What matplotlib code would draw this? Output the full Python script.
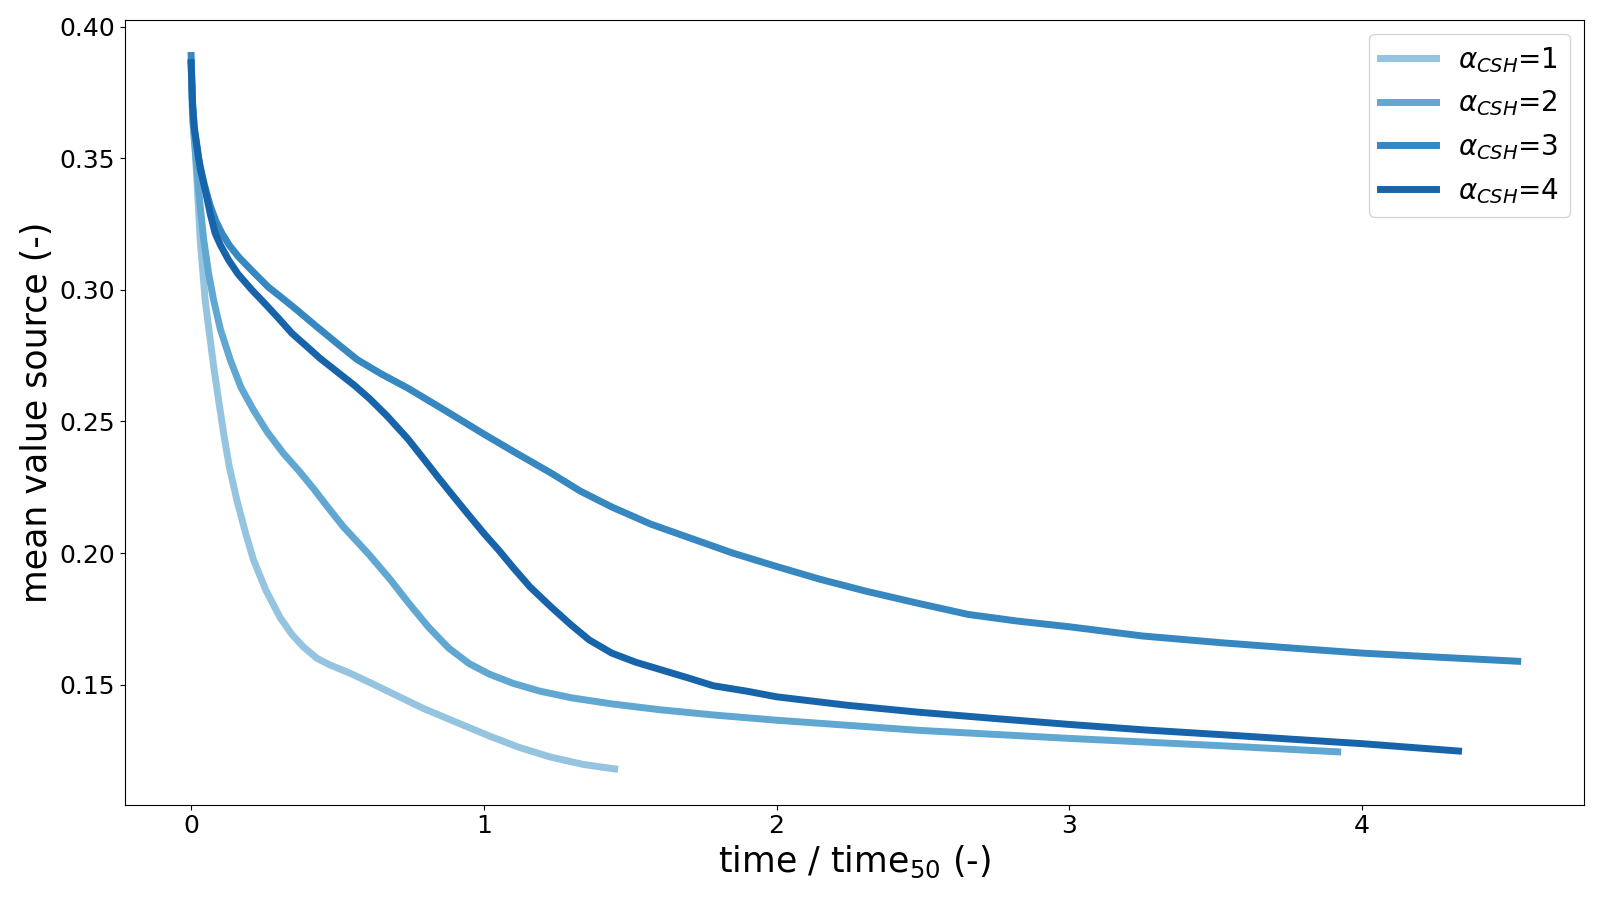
import matplotlib
matplotlib.use("Agg")
import matplotlib.pyplot as plt
import numpy as np

# values (time / time50, mean value source)
t1 = [0.0, 0.005, 0.014, 0.031, 0.048, 0.063, 0.077, 0.094, 0.111, 0.130, 0.156,
      0.185, 0.213, 0.255, 0.304, 0.345, 0.383, 0.430, 0.474, 0.540, 0.611, 0.700,
      0.793, 0.900, 1.019, 1.120, 1.228, 1.340, 1.447]
s1 = [0.386, 0.365, 0.353, 0.319, 0.296, 0.283, 0.2708, 0.258, 0.2455, 0.233, 0.2202,
      0.208, 0.1974, 0.186, 0.1755, 0.169, 0.1644, 0.160, 0.1575, 0.1545, 0.1508, 0.1460,
      0.1410, 0.1360, 0.1305, 0.1262, 0.1225, 0.1197, 0.1180]

t2 = [0.0, 0.005, 0.014, 0.030, 0.043, 0.060, 0.077, 0.100, 0.134, 0.170, 0.213,
      0.260, 0.315, 0.370, 0.418, 0.470, 0.520, 0.570, 0.611, 0.680, 0.741, 0.810,
      0.880, 0.950, 1.019, 1.100, 1.193, 1.300, 1.437, 1.600, 1.784, 2.0, 2.48, 3.0,
      3.52, 3.917]
s2 = [0.386, 0.366, 0.353, 0.333, 0.319, 0.306, 0.296, 0.285, 0.2733, 0.263, 0.2543,
      0.246, 0.2379, 0.231, 0.2245, 0.217, 0.2100, 0.204, 0.1990, 0.190, 0.1813, 0.172,
      0.1639, 0.1580, 0.1540, 0.1505, 0.1475, 0.1450, 0.1427, 0.1405, 0.1385, 0.1365,
      0.1327, 0.1296, 0.1268, 0.1245]

t3 = [0.0, 0.005, 0.012, 0.025, 0.045, 0.065, 0.085, 0.105, 0.130, 0.162, 0.210,
      0.264, 0.304, 0.365, 0.429, 0.50, 0.567, 0.650, 0.741, 0.870, 1.0, 1.110, 1.228,
      1.330, 1.437, 1.570, 1.715, 1.850, 2.0, 2.150, 2.306, 2.480, 2.654, 2.820, 3.0,
      3.250, 3.523, 3.750, 4.0, 4.250, 4.532]
s3 = [0.389, 0.371, 0.360, 0.350, 0.340, 0.332, 0.326, 0.3215, 0.317, 0.3125, 0.3070,
      0.3010, 0.2975, 0.292, 0.286, 0.2795, 0.2735, 0.268, 0.2626, 0.254, 0.2452, 0.238,
      0.2305, 0.2235, 0.2175, 0.211, 0.2053, 0.200, 0.1949, 0.190, 0.1855, 0.181,
      0.1767, 0.1742, 0.1720, 0.1685, 0.1659, 0.1640, 0.1620, 0.1605, 0.1589]

t4 = [0.0, 0.005, 0.010, 0.017, 0.031, 0.048, 0.065, 0.082, 0.100, 0.128, 0.160,
      0.207, 0.250, 0.300, 0.344, 0.400, 0.440, 0.480, 0.520, 0.560, 0.611, 0.670,
      0.741, 0.800, 0.845, 0.900, 0.950, 1.0, 1.054, 1.100, 1.158, 1.230, 1.297, 1.360,
      1.437, 1.520, 1.610, 1.700, 1.784, 1.900, 2.0, 2.240, 2.48, 2.74, 3.0, 3.26,
      3.523, 3.76, 4.0, 4.33]
s4 = [0.3863, 0.370, 0.362, 0.357, 0.346, 0.338, 0.329, 0.3215, 0.317, 0.3113, 0.306,
      0.300, 0.295, 0.289, 0.2835, 0.278, 0.2740, 0.2705, 0.267, 0.2635, 0.2585, 0.252,
      0.2433, 0.235, 0.2286, 0.221, 0.2142, 0.2075, 0.2007, 0.1945, 0.1871, 0.1795,
      0.1728, 0.167, 0.1620, 0.1585, 0.1555, 0.1525, 0.1496, 0.1475, 0.1454, 0.1422,
      0.1396, 0.1372, 0.1349, 0.1328, 0.1310, 0.1293, 0.1276, 0.1248]

alpha_values = [1, 2, 3, 4]
times = [t1, t2, t3, t4]
sources = [s1, s2, s3, s4]


def main() -> None:
    colors = plt.cm.Blues(np.linspace(0.4, 0.8, len(alpha_values)))

    fig, ax = plt.subplots(figsize=(16, 9), dpi=100)
    for a, t, s, c in zip(alpha_values, times, sources, colors):
        ax.plot(t, s, color=c, linewidth=5, label=r"$\alpha_{CSH}$=" + str(a))

    ax.set_xlabel(r"time / time$_{50}$ (-)", fontsize=25)
    ax.set_ylabel("mean value source (-)", fontsize=25)
    ax.tick_params(labelsize=18)
    ax.legend(loc="upper right", fontsize=20)

    fig.subplots_adjust(left=0.078, right=0.99, bottom=0.106, top=0.978)
    fig.savefig("out.png", dpi=100)
    plt.close(fig)


if __name__ == "__main__":
    main()
